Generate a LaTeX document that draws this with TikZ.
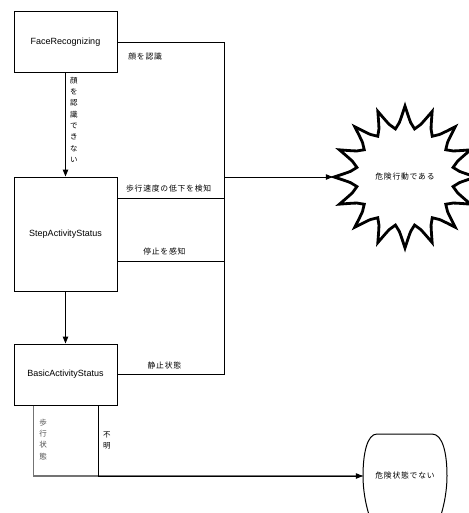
\documentclass[tikz,border=0pt]{standalone}
\usepackage{fontspec}
\setmainfont{Liberation Sans}
\newfontfamily\jp[LetterSpace=10]{Noto Sans CJK JP}
\usetikzlibrary{arrows.meta, positioning}
\tikzset{
    status/.style={rectangle, minimum width=103pt, text centered, draw=black, line width=1pt, font=\fontsize{9}{10}\selectfont, inner sep=0pt},
    arrow/.style={line width=1pt, ->, >={Triangle[length=7pt,width=5.5pt]}},
    link/.style={line width=1pt},
    lbl/.style={font=\jp\fontsize{7.8}{9}\selectfont, inner sep=2pt},
    vlbl/.style={font=\jp\fontsize{7.5}{11.3}\selectfont, align=center, inner sep=0pt},
    burst/.style={line width=2.8pt, line join=miter},
}

\begin{document}
\begin{tikzpicture}[x=1pt, y=-1pt, node distance=52pt]
  \useasboundingbox (0,0) rectangle (468,513);
  \node[status, minimum height=61pt]  (face)  at (65.5,42.5) {FaceRecognizing};
  \node[status, minimum height=114pt] (step)  [below=103pt of face] {StepActivityStatus};
  \node[status, minimum height=61pt]  (basic) [below=of step] {BasicActivityStatus};
  \node[circle, minimum size=144pt, lbl]    (danger) at (405,177) {危険行動である};
  \node[rectangle, minimum width=84pt, lbl] (safe)   at (405,476) {危険状態でない};
  \coordinate (join) at (224,177);

  % outlines of the two results
  \begin{scope}[shift={(danger.center)}]
    \draw[burst] (180:71) \foreach \a in {180,202.5,...,517.5} {
      .. controls (\a+6.5:53) .. (\a+11.25:49) .. controls (\a+16:53) .. (\a+22.5:71)} -- cycle;
  \end{scope}
  \begin{scope}[shift={(safe.center)}]
    \draw[link] (-34,45) .. controls (-40,28) and (-42,12) .. (-42,0)
      .. controls (-42,-22) and (-38,-42) .. (-28,-42) -- (27,-42)
      .. controls (38,-42) and (42,-22) .. (42,0)
      .. controls (42,12) and (40,28) .. (34,45);
  \end{scope}

  \draw[arrow] (face) -- node[vlbl, right=4pt, pos=0.45] {顔\\を\\認\\識\\で\\き\\な\\い} (step);
  \draw[arrow] (step) -- (basic);
  \draw[arrow] (face.east) -| node[lbl, pos=0.13, below=8pt] {顔を認識} (join) -- (danger.west);
  \draw[link] ([yshift=36pt]step.east) -| node[lbl, pos=0.24, above=3pt] {歩行速度の低下を検知} (join);
  \draw[link] ([yshift=-27pt]step.east) -| node[lbl, pos=0.22, above=3pt] {停止を感知} (join);
  \draw[link] (basic.east) -| node[lbl, pos=0.22, above=3pt] {静止状態} (join);
  \draw[link, black!55, line width=1.5pt] ([xshift=20pt]basic.south west) |- node[vlbl, text=black!70, pos=0.24, right=5pt] {歩\\行\\状\\態} (safe.west);
  \draw[arrow] ([xshift=-19pt]basic.south east) |- node[vlbl, pos=0.25, right=4pt] {不\\明} (safe.west);
\end{tikzpicture}
\end{document}
